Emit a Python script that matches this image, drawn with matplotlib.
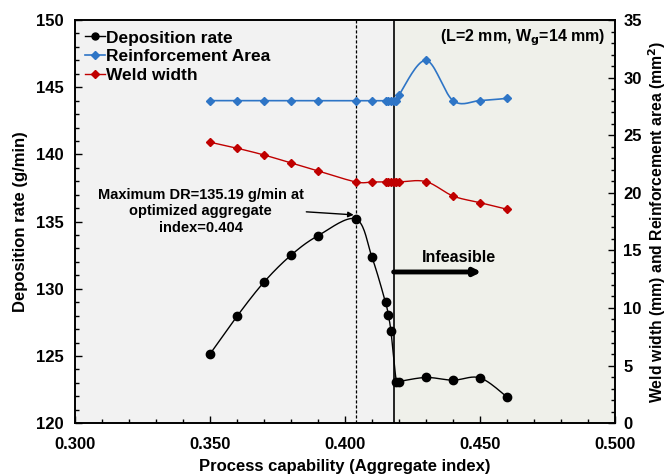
import numpy as np
import matplotlib
matplotlib.use("Agg")
import matplotlib.pyplot as plt
from matplotlib.ticker import MultipleLocator
from matplotlib.lines import Line2D

plt.rcParams['font.family'] = ['Liberation Sans', 'DejaVu Sans']
plt.rcParams['font.weight'] = 'bold'

# ---- data ----
dr_x = [0.350, 0.360, 0.370, 0.380, 0.390, 0.404, 0.410, 0.415, 0.416, 0.417,
        0.419, 0.420, 0.430, 0.440, 0.450, 0.460]
dr_y = [125.15, 127.96, 130.5, 132.5, 133.95, 135.19, 132.33, 128.98, 128.03, 126.84,
        123.07, 123.1, 123.4, 123.2, 123.37, 121.95]

ww_x = [0.350, 0.360, 0.370, 0.380, 0.390, 0.404, 0.410, 0.415, 0.416, 0.417,
        0.418, 0.419, 0.420, 0.430, 0.440, 0.450, 0.460]
ra_y = [28.0, 28.0, 28.0, 28.0, 28.0, 28.0, 28.0, 28.0, 28.0, 28.0,
        28.0, 28.0, 28.5, 31.5, 28.0, 28.0, 28.2]
ww_y = [24.39, 23.87, 23.28, 22.59, 21.9, 20.94, 20.94, 20.94, 20.94, 20.94,
        20.94, 20.94, 20.94, 20.97, 19.72, 19.14, 18.57]

x_opt = 0.404
x_infeasible = 0.418


def smooth(xs, ys, n=20):
    # Excel-like smoothed line (bezier through the points)
    xs = np.asarray(xs, float)
    ys = np.asarray(ys, float)
    px = np.concatenate([[xs[0]], xs, [xs[-1]]])
    py = np.concatenate([[ys[0]], ys, [ys[-1]]])
    out_x, out_y = [], []
    t = np.linspace(0, 1, n)
    for i in range(1, len(px) - 2):
        for p, out in ((px, out_x), (py, out_y)):
            p0, p1, p2, p3 = p[i - 1], p[i], p[i + 1], p[i + 2]
            c1 = p1 + (p2 - p0) / 6
            c2 = p2 - (p3 - p1) / 6
            out.extend((1 - t) ** 3 * p1 + 3 * (1 - t) ** 2 * t * c1
                       + 3 * (1 - t) * t ** 2 * c2 + t ** 3 * p2)
    return out_x, out_y


fig = plt.figure(figsize=(6.7, 4.76), dpi=100)
ax = fig.add_axes([0.112, 0.111, 0.806, 0.847])
ax2 = ax.twinx()

ax.set_xlim(0.300, 0.500)
ax.set_ylim(120, 150)
ax2.set_ylim(0, 35)

ax.axvspan(0.300, x_infeasible, color='#f2f2f2', zorder=0, lw=0)
ax.axvspan(x_infeasible, 0.500, color='#eff0ea', zorder=0, lw=0)
ax.axvline(x_opt, color='black', ls=(0, (2.5, 1.5)), lw=0.9)
ax.axvline(x_infeasible, color='black', lw=1.2)

# deposition rate
sx, sy = smooth(dr_x, dr_y)
ax.plot(sx, sy, color='black', lw=1.0, zorder=3)
ax.plot(dr_x, dr_y, 'o', color='black', ms=6, zorder=4)

# right-axis series
bx, by = smooth(ww_x, ra_y)
ax2.plot(bx, by, color='#2e75c6', lw=1.2, zorder=3)
ax2.plot(ww_x, ra_y, 'D', color='#2e75c6', ms=4.5, zorder=4)
rx, ry = smooth(ww_x, ww_y)
ax2.plot(rx, ry, color='#c00000', lw=1.0, zorder=3)
ax2.plot(ww_x, ww_y, 'D', color='#c00000', ms=4.5, zorder=4)

# legend
handles = [Line2D([], [], color='black', marker='o', ms=5, lw=1.0),
           Line2D([], [], color='#2e75c6', marker='D', ms=4, lw=1.2),
           Line2D([], [], color='#c00000', marker='D', ms=4, lw=1.0)]
ax.legend(handles, ['Deposition rate', 'Reinforcement Area', 'Weld width'],
          loc='upper left', bbox_to_anchor=(0.0, 1.0), frameon=False,
          prop={'weight': 'bold', 'size': 12.5}, handlelength=1.1,
          handletextpad=0.1, labelspacing=0.2, borderaxespad=0.2)

# annotations
ax.annotate('Maximum DR=135.19 g/min at\noptimized aggregate\nindex=0.404',
            xy=(x_opt - 0.0008, 135.5), xytext=(0.3465, 135.75),
            ha='center', va='center', fontsize=10.5, fontweight='bold',
            multialignment='center', linespacing=1.25,
            arrowprops=dict(arrowstyle='-|>', color='black', lw=1.0,
                            shrinkA=0, shrinkB=0, mutation_scale=8,
                            relpos=(0.88, 0.53)))
ax.text(0.4422, 132.3, 'Infeasible', ha='center', va='center',
        fontsize=11.5, fontweight='bold')
ax.annotate('', xy=(0.4505, 131.25), xytext=(x_infeasible, 131.25),
            arrowprops=dict(arrowstyle='-|>', color='black', lw=3.5,
                            shrinkA=0, shrinkB=0, mutation_scale=10))
ax.text(0.4965, 148.65, r'(L=2 mm, W$_\mathbf{g}$=14 mm)', ha='right', va='center',
        fontsize=11.5, fontweight='bold')

# axes styling
ax.xaxis.set_major_locator(MultipleLocator(0.05))
ax.xaxis.set_minor_locator(MultipleLocator(0.01))
ax.yaxis.set_major_locator(MultipleLocator(5))
ax.yaxis.set_minor_locator(MultipleLocator(1))
ax2.yaxis.set_major_locator(MultipleLocator(5))
ax2.yaxis.set_minor_locator(MultipleLocator(1))
ax.xaxis.set_major_formatter(plt.FuncFormatter(lambda v, p: f'{v:.3f}'))

for a in (ax, ax2):
    a.tick_params(which='both', direction='in', labelsize=12, width=1)
    a.tick_params(which='major', length=5)
    a.tick_params(which='minor', length=3)
    for s in a.spines.values():
        s.set_linewidth(1.2)
ax.tick_params(axis='x', pad=10)
ax.tick_params(axis='y', pad=8)
ax2.tick_params(axis='y', pad=6)
ax.set_zorder(ax2.get_zorder() - 1)
ax2.patch.set_visible(False)

ax.set_xlabel('Process capability (Aggregate index)', fontsize=12, fontweight='bold', labelpad=5)
ax.set_ylabel('Deposition rate (g/min)', fontsize=12, fontweight='bold', labelpad=6)
ax2.set_ylabel('Weld width (mm) and Reinforcement area (mm$^\\mathbf{2}$)',
               fontsize=11.3, fontweight='bold', labelpad=3)

fig.savefig('out.png', dpi=100)
